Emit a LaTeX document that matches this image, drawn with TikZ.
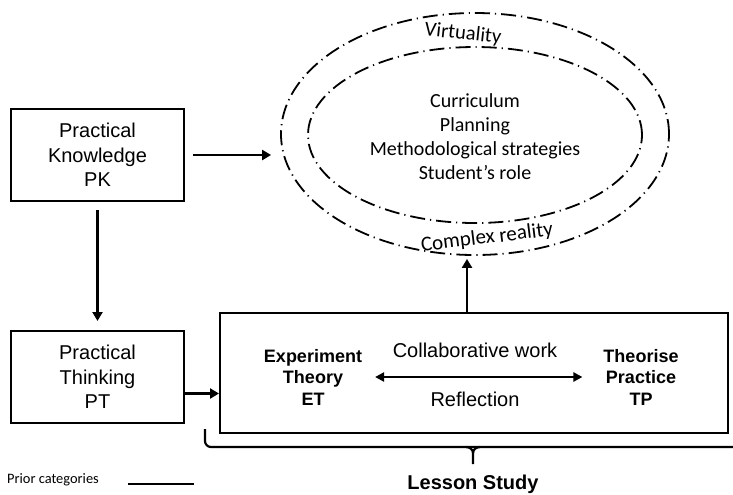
\documentclass[tikz,border=0pt]{standalone}
\usepackage{fontspec}
\setmainfont{Liberation Sans}
\newfontfamily\calfont{Carlito}
\usetikzlibrary{shapes.geometric,arrows.meta,positioning,calc}
\tikzstyle{box}=[draw,line width=1pt,minimum width=86.5pt,minimum height=46pt,align=center,font=\fontsize{10}{12.25}\selectfont]
\tikzstyle{ring}=[draw,ellipse,inner sep=0pt,line width=0.9pt,dash pattern=on 7.5pt off 2.5pt on 0.6pt off 2.5pt]
\tikzstyle{arr}=[line width=1.4pt,-{Triangle[length=4.5pt,width=5pt]}]
\tikzstyle{pole}=[align=center,font=\bfseries\fontsize{9}{10.75}\selectfont]
\tikzstyle{cal}=[font=\calfont\fontsize{10}{12}\selectfont]
\newcommand{\drawarrows}[2][\empty]{
	\foreach \a/\b in {#2}{
		\draw[arr,#1] (\a) -- (\b);
	}
}

\begin{document}
\begin{tikzpicture}[x=0.5pt,y=-0.5pt]
\useasboundingbox (0,0) rectangle (733,494);
% categories
\node[box] (pk) at (97.5,155) {Practical\\Knowledge\\PK};
\node[box,below=64pt of pk] (pt) {Practical\\Thinking\\PT};
\node[draw,line width=1pt,minimum width=254pt,minimum height=60pt] (ls) at (474,373) {};

% virtuality / complex reality
\node[ring,minimum width=194pt,minimum height=121pt] (outer) at (475,134) {};
\node[ring,minimum width=167pt,minimum height=88pt] (inner) at (475,135) {};
\node[cal,align=center] (topics) at (475,137) {Curriculum\\Planning\\Methodological strategies\\Student’s role};
\node[cal,font=\calfont\fontsize{10.3}{12}\selectfont,rotate=-6] (virt) at (463,34) {Virtuality};
\node[cal,font=\calfont\fontsize{10.5}{12}\selectfont,rotate=7] (real) at (487,238) {Complex reality};

% lesson study
\node[pole] (et) at (313,377) {Experiment\\Theory\\ET};
\node[pole] (tp) at (641,377) {Theorise\\Practice\\TP};
\node[anchor=base,font=\fontsize{10}{12}\selectfont] (collab) at (475,357) {Collaborative work};
\node[anchor=base,font=\fontsize{10}{12}\selectfont] (refl) at (475,406) {Reflection};
\node[anchor=base,font=\bfseries\fontsize{10}{12}\selectfont] (lesson) at (473,489) {Lesson Study};

\drawarrows[shorten <=4pt,shorten >=4.5pt]{pk.south/pt.north,pk.east/pk.east -| outer.west}
\draw[arr] ([yshift=-8.25pt]pt.east) -- ([yshift=-8.25pt]pt.east -| ls.west);
\draw[arr,shorten >=1.5pt] ([xshift=-3.5pt]ls.north) -- ([xshift=-3.5pt]ls.north |- outer.south);
\draw[arr,{Triangle[length=4.5pt,width=4.5pt]}-{Triangle[length=4.5pt,width=4.5pt]},shorten <=3pt,shorten >=7pt] (et.east) -- (tp.west);

% brace
\draw[line width=1.1pt] (205,429) -- (205,441) to[out=-90,in=180] (211,447) -- (733,447);
\draw[line width=1.1pt] (466,447) to[out=0,in=90] (473,453) -- (473,464);
\draw[line width=1.1pt] (480,447) to[out=180,in=90] (473,453);

% legend
\node[font=\calfont\fontsize{7.2}{9}\selectfont] (leg) at (53,480) {Prior categories};
\draw[line width=0.9pt] ([xshift=11pt]leg.base east) -- ++(66,0);
\end{tikzpicture}
\end{document}
